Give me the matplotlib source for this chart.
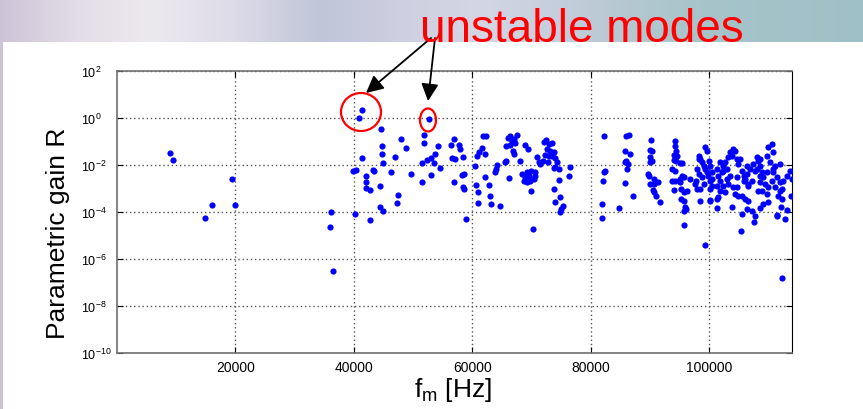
import numpy as np
import matplotlib
matplotlib.use('Agg')
import matplotlib.pyplot as plt
from matplotlib.patches import Ellipse, Rectangle
from matplotlib.ticker import NullLocator

plt.rcParams['font.family'] = ['Liberation Sans', 'DejaVu Sans']
plt.rcParams['mathtext.fontset'] = 'custom'
plt.rcParams['mathtext.rm'] = 'Liberation Sans'
plt.rcParams['mathtext.it'] = 'Liberation Sans:italic'

# mechanical mode frequency [Hz] and log10 of the parametric gain R
freq_hz = [
    9000, 9400, 19400, 16100, 20000, 14800,
    35990, 36210, 36550, 40140, 42740, 39800, 40310, 41390, 40930, 52640,
    44600, 48020, 48750, 44760, 44760, 44930, 47010, 41440, 43180, 43350,
    46290, 42000, 42000, 42120, 42680, 44480, 49710, 47470, 47350, 44360,
    44930, 51910, 51860, 54150, 53640, 53090, 52360, 51570, 53540, 54490,
    53090, 51570, 56350, 56890, 57700, 57870, 56630, 57090, 56850,
    58440, 58270, 58540, 58440, 58660, 59000, 60520, 60800, 61070, 61650,
    61810, 62370, 62200, 60680, 60900, 60900, 62080, 62760, 63050, 63160,
    64060, 64180, 63890, 64620, 65460, 65700, 66200,
    65970, 66310, 66710, 66420, 66980, 67560, 67150, 66810, 66980, 65700,
    68110, 68950, 69410,
    68400, 68840, 68670, 69240, 69510, 69800, 70520, 70640, 70360, 69970,
    69240, 69850, 70250,
    70930, 71200, 71490, 71870,
    72050, 72450, 72890, 73460, 72620, 73180, 73730, 73000, 72330, 72780,
    73460, 74020, 74300, 73730, 74020, 74580,
    74580, 73850, 74020, 74870, 75250, 75030, 74750, 76430, 76380,
    82290, 82170, 82460, 82000, 81900, 81900, 84700, 86000, 86390, 85840,
    86010, 85840, 86560, 86220, 86120, 85840, 87070,
    90230, 90060, 90340, 89940, 90340, 90060, 89670, 89840, 90610, 90730,
    91450, 89940, 90440, 90730, 91070, 91740,
    94270, 94270, 94440, 93990, 94660, 93990, 94440, 95000, 95410, 93710,
    94270, 93710, 94270, 95000, 95120, 95410, 95790, 94110, 95240, 95680,
    96250, 96690, 95240, 95790, 95960, 95790, 96130, 95790, 97940, 98210,
    98210, 97820, 97700, 98380,
    99340, 99630, 98500, 98780, 99060, 99340, 99900, 100190, 100470, 99800,
    98780, 97940, 98500, 99060, 100190, 100470, 100190, 100190, 101310, 99340,
    101310, 101580, 101870, 102160, 102430, 102720, 103000, 103270, 103560, 103840,
    104110, 104400, 104690, 104960, 103000, 103270, 102430, 101870, 101580, 101310,
    102600, 104110, 104400, 104960, 105530, 106090, 106650, 103840, 105530, 106370,
    107220, 107780, 107660, 105420,
    105530, 105810, 106090, 106370, 106650, 106940, 107220, 107490, 107780, 108060,
    108340, 108630, 108910, 109180, 108630, 109470, 108910, 109760, 109180, 108630,
    110020, 109760, 110020, 110600, 110870, 110310, 111160, 110870, 111440, 110600,
    111160, 112000, 111710, 112390, 112170, 111440, 112840, 113690, 113970, 113800,
    113130, 112560, 112390,
    108630, 108060, 106370, 105250, 101870, 102430, 103560, 104690, 105810, 108630,
    109760, 110870, 112000, 110020, 108340, 106650, 104690, 101310, 100470, 99630,
    98210, 111550, 100080, 112000, 112280, 113130,
]
log10_gain = [
    -1.48, -1.79, -2.61, -3.70, -3.70, -4.26,
    -4.64, -4.01, -6.51, -4.10, -4.33, -2.26, -2.23, 0.34, 0.00, -0.04,
    -0.48, -0.89, -1.28, -1.21, -1.55, -1.90, -1.66, -1.72, -2.21, -2.27,
    -2.30, -2.48, -2.74, -2.98, -3.06, -2.88, -2.38, -3.29, -3.60, -3.80,
    -3.94, -0.74, -1.05, -1.21, -1.53, -1.69, -1.79, -1.91, -1.91, -2.11,
    -2.44, -2.74, -1.14, -0.91, -1.17, -1.31, -1.72, -1.74, -2.71,
    -1.66, -2.43, -2.40, -2.94, -3.02, -4.30, -2.06, -1.60, -1.46, -1.29,
    -0.78, -0.75, -1.53, -2.85, -3.14, -3.62, -2.52, -2.84, -3.32, -3.65,
    -2.17, -2.00, -2.28, -3.76, -1.89, -1.82, -2.55,
    -0.86, -0.78, -0.97, -1.15, -0.89, -0.72, -1.06, -1.39, -1.53, -1.18,
    -1.82, -1.15, -1.32,
    -2.38, -2.52, -2.67, -2.31, -2.45, -2.67, -2.31, -2.45, -2.60, -2.24,
    -2.74, -3.09, -4.72,
    -1.67, -1.86, -1.96, -1.82,
    -1.03, -0.92, -1.11, -1.06, -1.32, -1.39, -1.46, -1.60, -1.57, -1.86,
    -1.63, -1.71, -1.88, -2.14, -2.10, -2.17,
    -2.62, -3.02, -3.56, -3.37, -3.73, -3.87, -4.01, -2.07, -2.45,
    -0.78, -2.31, -2.24, -2.69, -3.66, -4.27, -3.84, -0.78, -0.71, -1.42,
    -1.82, -1.89, -1.53, -1.96, -2.17, -2.78, -3.31,
    -0.92, -1.35, -1.39, -1.67, -1.84, -1.89, -2.38, -2.48, -2.60, -2.81,
    -2.74, -2.81, -3.05, -3.16, -3.31, -3.59,
    -0.99, -1.20, -1.42, -1.56, -1.63, -1.77, -1.84, -1.91, -1.91, -2.17,
    -2.27, -2.69, -2.67, -2.60, -2.74, -2.45, -2.52, -3.06, -3.02, -3.16,
    -3.09, -2.60, -3.45, -3.52, -3.80, -3.94, -3.87, -4.55, -2.17, -2.38,
    -1.74, -2.67, -2.81, -3.52,
    -1.25, -1.39, -1.74, -1.88, -2.03, -2.17, -1.82, -2.03, -2.31, -2.46,
    -2.52, -3.02, -3.02, -2.81, -2.67, -2.88, -3.02, -3.49, -3.84, -5.40,
    -2.17, -2.45, -2.67, -2.31, -2.03, -1.89, -2.17, -1.67, -1.46, -1.60,
    -1.32, -1.39, -1.74, -1.96, -2.60, -2.81, -2.88, -3.09, -3.37, -3.45,
    -3.16, -2.95, -3.23, -3.31, -3.31, -3.45, -3.52, -3.80, -4.09, -3.87,
    -3.94, -4.16, -4.44, -4.80,
    -2.24, -2.45, -2.60, -2.38, -2.81, -2.17, -2.67, -1.96, -2.24, -1.67,
    -1.82, -2.03, -2.31, -2.52, -2.74, -2.81, -3.09, -3.23, -3.66, -3.84,
    -3.59, -1.60, -1.25, -1.11, -1.46, -1.89, -2.03, -2.31, -2.52, -2.67,
    -2.95, -3.09, -3.31, -3.45, -3.80, -4.16, -4.30, -2.24, -2.60, -3.31,
    -2.45, -2.67, -6.82,
    -1.74, -2.17, -2.03, -1.74, -1.88, -2.24, -2.45, -2.52, -2.67, -2.45,
    -2.31, -2.17, -2.74, -2.95, -3.09, -2.88, -2.95, -2.88, -2.60, -2.31,
    -1.60, -4.13, -3.52, -1.96, -3.02, -3.90,
]

x_ticks = [20000, 40000, 60000, 80000, 100000]
y_ticks = [1e-10, 1e-8, 1e-6, 1e-4, 1e-2, 1e0, 1e2]

W, H = 863, 410
fig = plt.figure(figsize=(W / 100, H / 100), dpi=100)

# fondo tipo diapositiva
bg = fig.add_axes([0, 0, 1, 1])
bg.axis('off')
sx = [0, 80, 150, 230, 320, 400, 480, 560, 620, 700, 863]
sc = [(205, 195, 215), (228, 222, 232), (236, 233, 238), (222, 220, 232),
      (192, 197, 216), (206, 207, 224), (212, 214, 228), (196, 206, 220),
      (182, 200, 210), (166, 196, 202), (160, 192, 199)]
xs = np.arange(W)
grad = np.stack([np.interp(xs, sx, [c[i] for c in sc]) for i in range(3)], axis=-1) / 255
bg.imshow(grad[None, :, :], extent=[0, 1, 0, 1], aspect='auto')
bg.set_xlim(0, 1)
bg.set_ylim(0, 1)
bg.add_patch(Rectangle((3 / W, 0), 1, 1 - 43 / H, color='white', lw=0))

ax = fig.add_axes([117 / W, 1 - 354 / H, (792 - 117) / W, (354 - 72) / H])
ax.scatter(freq_hz, 10.0 ** np.array(log10_gain), s=20, c='#0000ff',
           linewidths=0, zorder=3)
ax.set_yscale('log')
ax.set_xlim(0, 114000)
ax.set_ylim(1e-10, 1e2)
ax.set_xticks(x_ticks)
ax.set_xticklabels([str(v) for v in x_ticks])
ax.set_yticks(y_ticks)
ax.yaxis.set_minor_locator(NullLocator())
ax.grid(True, ls=(0, (1, 2)), color='#555555', lw=1.0)
ax.tick_params(direction='in', top=True, right=True, length=4, width=0.8)
ax.tick_params(axis='x', labelsize=10, pad=5)
ax.tick_params(axis='y', labelsize=9, pad=26)
plt.setp(ax.get_yticklabels(), ha='left')
for s in ['left', 'top', 'bottom']:
    ax.spines[s].set_color('#707070')
    ax.spines[s].set_linewidth(1.2)
ax.spines['right'].set_color('black')

fig.text(58 / W, 1 - 233 / H, 'Parametric gain R', rotation=90, fontsize=19,
         ha='center', va='center')
fig.text(453 / W, 1 - 397 / H, r'$\mathregular{f_m}$ [Hz]', fontsize=19,
         ha='center', va='baseline')

# anotaciones: modos inestables
fig.text(582 / W, 1 - 42 / H, 'unstable modes', color='red', fontsize=33,
         ha='center', va='baseline')
arrow = dict(arrowstyle='-|>', mutation_scale=26, color='black', lw=1.3,
             shrinkA=0, shrinkB=0)
ax.annotate('', xy=(366, H - 94), xycoords='figure pixels',
            xytext=(431, H - 39), textcoords='figure pixels', arrowprops=arrow)
ax.annotate('', xy=(428, H - 102), xycoords='figure pixels',
            xytext=(435, H - 39), textcoords='figure pixels', arrowprops=arrow)
fig.add_artist(Ellipse((361 / W, 1 - 113 / H), 40 / W, 38 / H,
                       transform=fig.transFigure, fill=False, ec='red', lw=1.6))
fig.add_artist(Ellipse((428 / W, 1 - 121 / H), 16 / W, 23 / H,
                       transform=fig.transFigure, fill=False, ec='red', lw=1.6))

fig.savefig('out.png', dpi=100)
